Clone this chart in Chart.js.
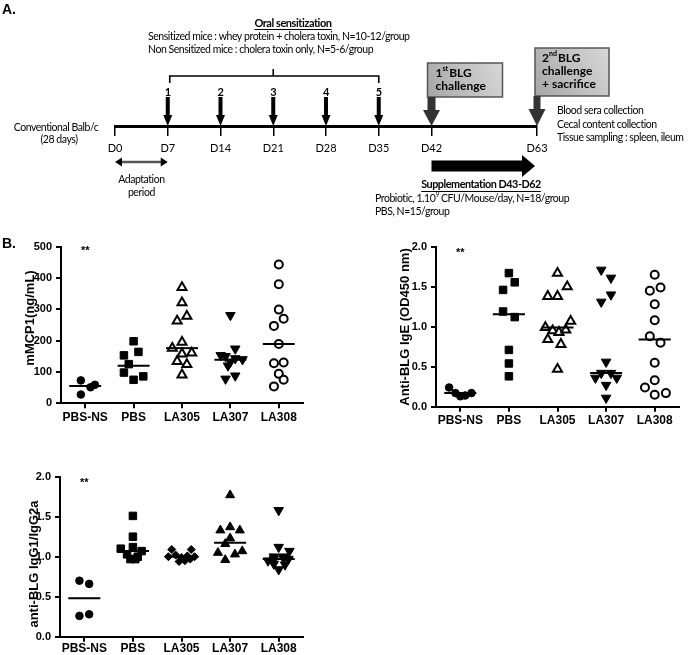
<!DOCTYPE html>
<html>
<head>
<meta charset="utf-8">
<script src="https://cdn.jsdelivr.net/npm/chart.js@4.4.1/dist/chart.umd.min.js"></script>
<style>
  body { margin: 0; background: #fff; width: 696px; height: 655px; position: relative; overflow: hidden; }
  canvas { position: absolute; }
  .panel { position: absolute; font: bold 14px "Liberation Sans", Arial, sans-serif; }
</style>
</head>
<body>
<canvas id="timeline" width="696" height="232" style="left:0;top:0"></canvas>
<canvas id="mcp1Chart" width="320" height="200" style="left:0;top:236px"></canvas>
<canvas id="igeChart" width="320" height="200" style="left:376px;top:236px"></canvas>
<canvas id="iggChart" width="320" height="189" style="left:0;top:466px"></canvas>
<div class="panel" style="left:2px;top:1px">A.</div>
<div class="panel" style="left:2px;top:235px">B.</div>
<script>
// ---- panel A: protocol timeline ----
const timelineLabels = ['D0', 'D7', 'D14', 'D21', 'D28', 'D35', 'D42', '', 'D63'];
const doseNumbers = ['1', '2', '3', '4', '5']; // oral gavages on D7..D35

// ---- panel B: dot plots ----
const groups = ['PBS-NS', 'PBS', 'LA305', 'LA307', 'LA308'];

const mcp1Values = [
    [73, 28, 51, 59],
    [198, 153, 164, 125, 98, 75, 86],
    [370, 321, 263, 278, 195, 176, 158, 161, 134, 124, 91],
    [281, 153, 150, 174, 143, 132, 120, 140, 78, 88],
    [443, 380, 299, 270, 247, 189, 128, 130, 94, 75, 54]
];
const mcp1Jitter = [
    [-0.09, -0.09, 0.11, 0.2],
    [0, -0.2, 0.1, -0.1, -0.2, 0, 0.2],
    [0, 0, -0.1, 0.1, 0, -0.2, 0, 0.2, -0.1, 0.1, 0],
    [0, -0.2, -0.1, 0.1, 0.1, 0, -0.05, 0.25, -0.1, 0.1],
    [0, 0, 0, 0.1, -0.1, 0, -0.1, 0.1, 0, 0.1, -0.1]
];
const mcp1Medians = [55, 120, 176, 139, 189];

const igeValues = [
    [0.24, 0.17, 0.13, 0.14, 0.17],
    [1.67, 1.555, 1.46, 1.19, 1.12, 0.71, 0.54, 0.38],
    [1.67, 1.50, 1.38, 1.38, 1.07, 0.99, 0.95, 0.93, 0.96, 0.84, 0.78, 0.47],
    [1.71, 1.61, 1.40, 1.31, 0.56, 0.36, 0.42, 0.42, 0.36, 0.27, 0.11],
    [1.65, 1.45, 1.49, 1.28, 1.08, 0.88, 0.80, 0.55, 0.33, 0.24, 0.15, 0.17]
];
const igeJitter = [
    [-0.23, -0.1, 0, 0.1, 0.23],
    [0, 0.12, -0.12, -0.12, 0.12, 0, 0, 0],
    [0, 0.2, -0.2, 0, 0.27, -0.25, -0.1, 0.03, 0.17, -0.2, 0.07, 0],
    [-0.1, 0.1, 0.1, -0.1, 0, -0.22, -0.1, 0.1, 0.22, 0, 0],
    [0, -0.1, 0.12, 0, 0, -0.1, 0.12, 0, 0, -0.2, 0, 0.23]
];
const igeMedians = [0.17, 1.155, 0.99, 0.42, 0.84];

const iggValues = [
    [0.70, 0.66, 0.26, 0.28],
    [1.51, 1.25, 1.10, 1.12, 1.07, 1.03, 1.00, 0.97, 0.97],
    [1.09, 1.09, 1.00, 1.02, 0.99, 1.01, 1.00, 0.94, 0.95, 0.97],
    [1.77, 1.33, 1.37, 1.33, 1.23, 1.16, 1.05, 1.03, 1.07, 0.96],
    [1.58, 1.12, 1.07, 0.95, 0.97, 0.98, 0.97, 1.00, 1.00, 0.90, 0.84, 0.91]
];
const iggJitter = [
    [-0.1, 0.1, -0.1, 0.1],
    [0, 0, -0.25, 0, 0.18, -0.12, 0.1, -0.05, 0.05],
    [-0.2, 0.2, -0.27, -0.12, 0, 0.12, 0.27, -0.05, 0.07, 0.18],
    [0, -0.2, 0, 0.2, 0, -0.1, -0.25, 0.1, 0.25, -0.1],
    [0, 0, 0.22, -0.22, -0.1, 0.1, 0.2, -0.1, 0.1, 0.13, 0, -0.1]
];
const iggMedians = [0.48, 1.07, 1.0, 1.175, 0.97];

const ARIAL = '"Liberation Sans", Arial, sans-serif';
const CALI = 'Lato, "Open Sans", sans-serif';

// marker looks per group
const openMarkers = [
    { style: 'circle', r: 3.8 },
    { style: 'rect', r: 5.3 },
    { style: 'triangle', r: 5.2, open: true },
    { style: 'triangle', r: 5.5, rot: 180 },
    { style: 'circle', r: 4, open: true }
];
const filledMarkers = [
    { style: 'circle', r: 3.8 },
    { style: 'rect', r: 5.3 },
    { style: 'rectRot', r: 4 },
    { style: 'triangle', r: 5.2 },
    { style: 'triangle', r: 5.5, rot: 180 }
];

// ---------- timeline drawing helpers ----------
function arrowDown(ctx, x, yTop, yTip, shaft, head, headLen) {
    ctx.beginPath();
    ctx.moveTo(x - shaft, yTop);
    ctx.lineTo(x + shaft, yTop);
    ctx.lineTo(x + shaft, yTip - headLen);
    ctx.lineTo(x + head, yTip - headLen);
    ctx.lineTo(x, yTip);
    ctx.lineTo(x - head, yTip - headLen);
    ctx.lineTo(x - shaft, yTip - headLen);
    ctx.closePath();
    ctx.fill();
}

function arrowRight(ctx, xStart, xTip, y, shaft, head, headLen) {
    ctx.beginPath();
    ctx.moveTo(xStart, y - shaft);
    ctx.lineTo(xTip - headLen, y - shaft);
    ctx.lineTo(xTip - headLen, y - head);
    ctx.lineTo(xTip, y);
    ctx.lineTo(xTip - headLen, y + head);
    ctx.lineTo(xTip - headLen, y + shaft);
    ctx.lineTo(xStart, y + shaft);
    ctx.closePath();
    ctx.fill();
}

function underlined(ctx, text, cx, y) {
    ctx.textAlign = 'center';
    ctx.fillText(text, cx, y);
    const w = ctx.measureText(text).width;
    ctx.fillRect(cx - w / 2, y + 6, w, 1);
}

function greyBox(ctx, x, y, w, h) {
    const g = ctx.createLinearGradient(x, y + h, x + w, y);
    g.addColorStop(0, '#a6a6a6');
    g.addColorStop(1, '#d8d8d8');
    ctx.fillStyle = g;
    ctx.fillRect(x, y, w, h);
    ctx.strokeStyle = '#555';
    ctx.lineWidth = 1.5;
    ctx.strokeRect(x, y, w, h);
    ctx.fillStyle = '#000';
}

function ordinalLine(ctx, num, sup, rest, x, y) {
    ctx.textAlign = 'left';
    ctx.font = 'bold 12px ' + CALI;
    ctx.fillText(num, x, y);
    let cx = x + ctx.measureText(num).width;
    ctx.font = 'bold 7px ' + CALI;
    ctx.fillText(sup, cx, y - 4);
    cx += ctx.measureText(sup).width + 1;
    ctx.font = 'bold 12px ' + CALI;
    ctx.fillText(rest, cx, y);
}

const protocolPlugin = {
    id: 'protocol',
    afterDraw(chart) {
        const ctx = chart.ctx;
        const sx = chart.scales.x;
        const base = chart.chartArea.bottom;
        const at = i => sx.getPixelForValue(i);
        const txt = '10.5px ' + CALI;
        ctx.save();
        ctx.fillStyle = '#000';
        ctx.strokeStyle = '#000';
        ctx.textBaseline = 'middle';
        ctx.letterSpacing = '-0.45px';

        ctx.font = txt;
        ctx.textAlign = 'center';
        ctx.fillText('Conventional Balb/c', 56, base + 2);
        ctx.fillText('(28 days)', 59, base + 14);

        // oral sensitization gavages
        doseNumbers.forEach((n, k) => {
            const x = at(k + 1);
            arrowDown(ctx, x, base - 29, base, 2, 4.5, 11);
            ctx.font = 'bold 11px ' + CALI;
            ctx.textAlign = 'center';
            ctx.fillText(n, x, base - 34);
        });
        const left = at(1) + 2, right = at(5), yb = base - 50;
        const mid = (at(1) + at(5)) / 2;
        ctx.lineWidth = 1.6;
        ctx.beginPath();
        ctx.moveTo(left, base - 43);
        ctx.lineTo(left, yb);
        ctx.lineTo(right, yb);
        ctx.lineTo(right, base - 43);
        ctx.moveTo(mid, yb);
        ctx.lineTo(mid, yb - 7);
        ctx.stroke();

        ctx.font = 'bold 11px ' + CALI;
        underlined(ctx, 'Oral sensitization', 293, 23);
        ctx.font = txt;
        ctx.textAlign = 'left';
        ctx.fillText('Sensitized mice : whey protein + cholera toxin, N=10-12/group', 148, 37);
        ctx.fillText('Non Sensitized mice : cholera toxin only, N=5-6/group', 148, 50);

        // BLG challenges
        const d42 = at(6), d63 = at(8);
        ctx.letterSpacing = '0px';
        greyBox(ctx, d42 - 4, 63, 75, 34);
        ordinalLine(ctx, '1', 'st', 'BLG', d42 + 4, 73);
        ctx.fillText('challenge', d42 + 4, 86);
        ctx.fillStyle = '#333';
        arrowDown(ctx, d42, 97, base, 4, 8.5, 16);

        ctx.fillStyle = '#000';
        greyBox(ctx, d63 - 2, 48, 74, 48);
        ordinalLine(ctx, '2', 'nd', 'BLG', d63 + 5, 58);
        ctx.fillText('challenge', d63 + 5, 71);
        ctx.fillText('+ sacrifice', d63 + 5, 84);
        ctx.fillStyle = '#333';
        arrowDown(ctx, d63, 96, base, 3.5, 8.5, 17);

        ctx.letterSpacing = '-0.45px';
        ctx.fillStyle = '#000';
        ctx.font = txt;
        ctx.textAlign = 'left';
        ctx.fillText('Blood sera collection', d63 + 20, 111);
        ctx.fillText('Cecal content collection', d63 + 20, 124.5);
        ctx.fillText('Tissue sampling : spleen, ileum', d63 + 20, 138);

        // adaptation period
        const a0 = at(0), a1 = at(1), ya = base + 36;
        ctx.lineWidth = 2.5;
        ctx.beginPath();
        ctx.moveTo(a0 + 5, ya);
        ctx.lineTo(a1 - 5, ya);
        ctx.stroke();
        ctx.beginPath();
        ctx.moveTo(a0, ya); ctx.lineTo(a0 + 7, ya - 4.5); ctx.lineTo(a0 + 7, ya + 4.5); ctx.closePath();
        ctx.moveTo(a1, ya); ctx.lineTo(a1 - 7, ya - 4.5); ctx.lineTo(a1 - 7, ya + 4.5); ctx.closePath();
        ctx.fill();
        ctx.font = txt;
        ctx.textAlign = 'center';
        ctx.fillText('Adaptation', (a0 + a1) / 2, 180);
        ctx.fillText('period', (a0 + a1) / 2, 193);

        // supplementation
        arrowRight(ctx, d42, d63 - 2, base + 40, 5.5, 11, 13);
        ctx.font = 'bold 10.8px ' + CALI;
        underlined(ctx, 'Supplementation D43-D62', 481, 185);
        ctx.font = txt;
        ctx.textAlign = 'left';
        const p1 = 'Probiotic, 1.10';
        ctx.fillText(p1, 375, 199);
        let px = 375 + ctx.measureText(p1).width;
        ctx.font = '7px ' + CALI;
        ctx.fillText('9', px, 195);
        px += ctx.measureText('9').width + 2;
        ctx.font = txt;
        ctx.fillText('CFU/Mouse/day, N=18/group', px, 199);
        ctx.fillText('PBS, N=15/group', 375, 212);
        ctx.restore();
    }
};

new Chart(document.getElementById('timeline'), {
    type: 'line',
    data: { labels: timelineLabels, datasets: [] },
    options: {
        responsive: false,
        animation: false,
        layout: { padding: { left: 115, right: 159, top: 0, bottom: 0 } },
        plugins: { legend: { display: false }, tooltip: { enabled: false } },
        scales: {
            x: {
                offset: false,
                border: { display: true, color: '#000', width: 3 },
                grid: {
                    drawOnChartArea: false,
                    tickLength: 10,
                    lineWidth: 1.5,
                    color: ctx => (timelineLabels[ctx.index] === '' ? 'rgba(0,0,0,0)' : '#000')
                },
                ticks: { color: '#000', font: { family: CALI, size: 11 }, padding: 6, autoSkip: false, maxRotation: 0 },
                afterFit: s => { s.height = 232 - 126; }
            },
            y: { display: false, min: 0, max: 1 }
        }
    },
    plugins: [protocolPlugin]
});

// ---------- dot plots ----------
// "**" above PBS-NS and the rotated y title
const decorPlugin = {
    id: 'decor',
    afterDraw(chart, args, opts) {
        const ctx = chart.ctx;
        ctx.save();
        ctx.fillStyle = '#000';
        ctx.font = 'bold 11px ' + ARIAL;
        ctx.textAlign = 'center';
        ctx.textBaseline = 'middle';
        ctx.fillText('**', chart.scales.x.getPixelForValue(1), chart.scales.y.getPixelForValue(opts.level));
        ctx.font = 'bold 13px ' + ARIAL;
        ctx.translate(opts.titleX, opts.titleY);
        ctx.rotate(-Math.PI / 2);
        ctx.fillText(opts.title, 0, 0);
        ctx.restore();
    }
};

function dotPlot(id, cfg) {
    const datasets = [];
    cfg.medians.forEach((m, g) => {
        datasets.push({
            data: [{ x: g + 1 - 0.33, y: m }, { x: g + 1 + 0.33, y: m }],
            showLine: true, borderColor: '#000', borderWidth: 2, pointRadius: 0, clip: false
        });
    });
    cfg.values.forEach((vals, g) => {
        const mk = cfg.markers[g];
        datasets.push({
            data: vals.map((v, k) => ({ x: g + 1 + cfg.jitter[g][k], y: v })),
            pointStyle: mk.style,
            pointRadius: mk.r,
            pointRotation: mk.rot || 0,
            pointBackgroundColor: mk.open ? '#fff' : '#000',
            pointBorderColor: '#000',
            pointBorderWidth: mk.open ? 2 : 1,
            clip: false
        });
    });

    const axisFont = { family: ARIAL, size: 12, weight: 'bold' };
    new Chart(document.getElementById(id), {
        type: 'scatter',
        data: { datasets },
        options: {
            responsive: false,
            animation: false,
            layout: { padding: cfg.padding },
            plugins: {
                legend: { display: false }, tooltip: { enabled: false },
                decor: { level: cfg.star, title: cfg.title, titleX: cfg.titleX, titleY: cfg.titleY }
            },
            scales: {
                x: {
                    type: 'linear', min: 0.5, max: 5.5,
                    afterBuildTicks: s => { s.ticks = groups.map((_, i) => ({ value: i + 1 })); },
                    ticks: { callback: v => groups[Math.round(v) - 1], color: '#000', font: axisFont, padding: cfg.xPad, autoSkip: false, maxRotation: 0 },
                    grid: { drawOnChartArea: false, color: '#000', lineWidth: 2, tickLength: 5 },
                    border: { color: '#000', width: 2 },
                    afterFit: s => { s.height = cfg.xh; }
                },
                y: {
                    min: 0, max: cfg.max,
                    ticks: { stepSize: cfg.step, callback: cfg.fmt, color: '#000', font: { family: ARIAL, size: 11, weight: 'bold' }, padding: 4 },
                    grid: { drawOnChartArea: false, color: '#000', lineWidth: 2, tickLength: 5 },
                    border: { color: '#000', width: 2 },
                    afterFit: s => { s.width = cfg.yw; }
                }
            }
        },
        plugins: [decorPlugin]
    });
}

dotPlot('mcp1Chart', {
    values: mcp1Values, jitter: mcp1Jitter, medians: mcp1Medians, markers: openMarkers,
    max: 500, step: 100, fmt: v => v, title: 'mMCP1(ng/mL)', star: 485, titleX: 30, titleY: 82,
    padding: { left: 0, top: 7.5, right: 17, bottom: 0 }, yw: 61, xh: 32.7, xPad: 2
});
dotPlot('igeChart', {
    values: igeValues, jitter: igeJitter, medians: igeMedians, markers: openMarkers,
    max: 2.0, step: 0.5, fmt: v => v.toFixed(1), title: 'Anti-BLG IgE (OD450 nm)', star: 1.92, titleX: 29, titleY: 91,
    padding: { left: 0, top: 10.7, right: 17, bottom: 0 }, yw: 60, xh: 29.3, xPad: 2
});
dotPlot('iggChart', {
    values: iggValues, jitter: iggJitter, medians: iggMedians, markers: filledMarkers,
    max: 2.0, step: 0.5, fmt: v => v.toFixed(1), title: 'anti-BLG IgG1/IgG2a', star: 1.92, titleX: 34, titleY: 98,
    padding: { left: 0, top: 10.7, right: 17, bottom: 0 }, yw: 60, xh: 18.3, xPad: 0
});
</script>
</body>
</html>
